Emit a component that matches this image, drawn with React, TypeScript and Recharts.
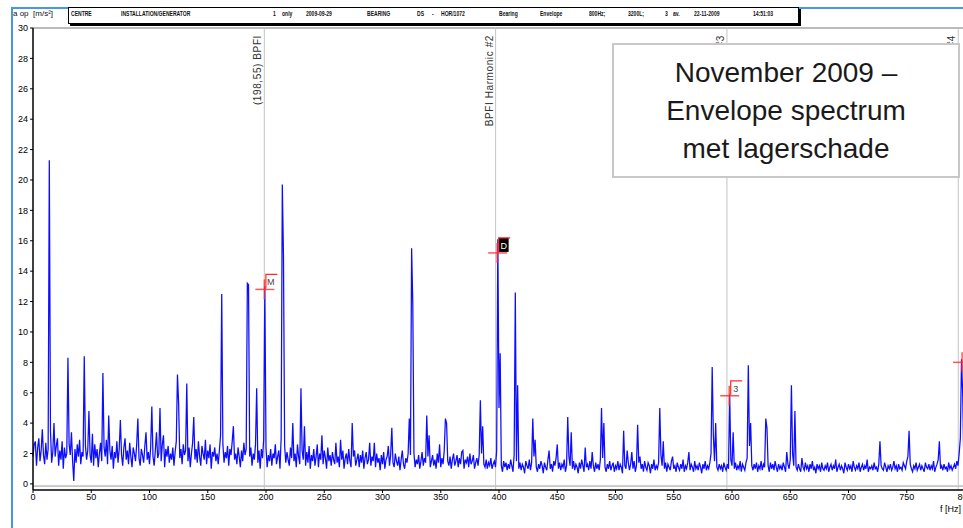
import { LineChart, Line, XAxis, YAxis, ReferenceLine, ReferenceDot } from 'recharts'

// envelope spectrum, 1 Hz bins from 0 to 800 Hz, a op in m/s²
const binHz = 1
const amplitude = [
    1.8, 2.6, 2.8, 1.2, 2.4, 3.0, 1.5, 2.2, 3.6, 1.9, 1.3, 2.7, 1.6, 2.3, 21.3, 3.5, 1.4, 2.1, 4.0, 1.8,
    2.5, 3.0, 1.2, 2.2, 1.6, 2.8, 1.0, 2.4, 1.7, 2.0, 8.3, 2.6, 1.9, 3.4, 1.5, 0.2, 2.3, 1.4, 2.6, 1.8,
    2.9, 1.3, 2.1, 1.8, 8.4, 2.5, 1.6, 2.2, 4.8, 1.9, 1.4, 3.3, 1.2, 2.6, 1.7, 2.3, 1.1, 2.0, 2.7, 1.5,
    7.3, 2.4, 1.8, 2.9, 1.3, 4.5, 2.2, 1.6, 2.5, 1.0, 2.1, 1.7, 2.8, 1.4, 2.3, 4.2, 1.9, 1.2, 2.4, 3.0,
    1.6, 2.2, 1.3, 2.7, 1.8, 1.1, 2.4, 2.0, 1.5, 2.6, 4.3, 1.7, 1.2, 2.3, 1.9, 1.4, 2.5, 3.4, 1.6, 2.1,
    1.3, 2.4, 5.1, 1.8, 1.2, 2.2, 3.4, 1.7, 2.0, 5.0, 1.5, 2.6, 3.2, 1.1, 2.3, 1.8, 2.5, 1.4, 2.0, 1.6,
    2.4, 1.2, 2.1, 2.8, 7.2, 5.3, 1.7, 2.3, 1.3, 2.6, 1.9, 2.2, 6.6, 1.5, 2.4, 1.1, 2.0, 2.7, 4.4, 1.6,
    2.3, 1.4, 2.8, 1.8, 1.2, 2.5, 2.0, 1.6, 2.9, 1.3, 2.2, 1.7, 2.6, 1.0, 2.1, 1.8, 2.4, 1.5, 2.0, 1.3,
    2.2, 3.2, 12.5, 2.6, 1.4, 2.1, 1.7, 2.5, 1.2, 2.3, 1.9, 2.8, 3.8, 1.6, 2.0, 1.3, 2.4, 1.8, 1.1, 2.2,
    1.5, 2.7, 1.9, 2.3, 13.2, 13.1, 1.8, 2.4, 1.2, 2.0, 1.6, 2.6, 6.3, 1.4, 2.2, 1.0, 2.3, 1.7, 2.9, 13.0,
    2.4, 1.1, 1.9, 1.5, 2.3, 1.2, 2.0, 1.7, 2.6, 1.3, 1.8, 2.2, 1.0, 3.0, 19.7, 15.0, 2.5, 1.4, 2.1, 1.6,
    1.2, 2.4, 1.7, 4.0, 1.5, 2.0, 1.1, 2.6, 1.8, 1.3, 6.3, 2.2, 1.6, 3.8, 1.2, 2.1, 1.4, 2.5, 1.0, 1.9,
    1.5, 2.3, 1.2, 1.8, 2.6, 1.1, 2.0, 1.6, 3.2, 1.3, 2.2, 1.7, 1.0, 2.4, 1.5, 1.9, 1.2, 2.1, 1.6, 1.3,
    2.7, 1.4, 1.8, 1.1, 2.9, 1.6, 2.2, 1.0, 1.7, 2.0, 1.3, 2.3, 1.5, 1.1, 4.0, 1.8, 2.2, 1.2, 1.6, 2.0,
    1.1, 1.9, 1.4, 2.2, 1.0, 1.7, 2.1, 1.3, 1.6, 2.7, 1.2, 1.8, 1.5, 2.7, 1.1, 2.0, 1.4, 1.7, 0.9, 1.9,
    1.3, 2.1, 1.0, 1.6, 1.8, 2.5, 1.2, 1.9, 3.7, 1.4, 1.1, 2.0, 1.5, 1.2, 1.8, 0.9, 1.6, 2.2, 1.3, 1.0,
    1.7, 1.4, 2.0, 4.3, 1.9, 15.5, 11.8, 2.0, 1.1, 1.6, 1.3, 1.9, 1.0, 1.5, 2.1, 1.2, 1.7, 1.4, 4.5, 1.8,
    3.2, 1.1, 1.5, 1.9, 1.2, 1.6, 1.0, 2.0, 1.4, 2.6, 1.1, 1.7, 1.3, 2.2, 4.3, 4.0, 1.5, 1.2, 1.8, 1.0,
    1.6, 2.0, 1.2, 1.5, 1.9, 1.1, 1.7, 1.3, 2.1, 2.2, 1.0, 1.6, 1.4, 1.8, 1.1, 2.0, 1.3, 1.5, 1.9, 1.0,
    1.4, 1.7, 1.2, 1.9, 5.5, 2.0, 3.8, 1.3, 1.1, 1.6, 1.0, 1.4, 1.2, 1.7, 1.0, 1.3, 1.5, 1.1, 2.2, 16.1,
    5.0, 8.6, 1.2, 0.8, 1.5, 1.1, 1.4, 0.9, 1.3, 1.0, 1.6, 1.2, 0.8, 1.9, 12.6, 1.5, 6.5, 1.0, 1.4, 0.9,
    1.3, 1.1, 0.7, 1.5, 1.2, 1.0, 1.6, 0.9, 1.4, 4.3, 1.8, 2.9, 1.1, 0.8, 1.3, 1.0, 1.5, 1.2, 0.7, 1.4,
    1.1, 0.9, 1.6, 2.2, 1.0, 1.3, 0.8, 1.5, 1.2, 1.7, 2.6, 1.0, 1.4, 0.9, 1.3, 1.1, 1.6, 0.8, 1.2, 4.4,
    1.8, 1.2, 3.4, 1.0, 1.5, 0.9, 1.3, 1.1, 0.7, 1.4, 1.0, 1.6, 1.2, 0.8, 2.4, 1.1, 1.3, 0.9, 1.5, 1.0,
    2.1, 1.2, 0.8, 1.4, 1.0, 1.3, 0.9, 1.6, 5.0, 1.7, 4.0, 1.1, 0.8, 1.3, 1.0, 1.5, 0.9, 1.2, 1.4, 0.8,
    1.2, 1.0, 1.5, 0.9, 1.3, 1.1, 0.7, 3.5, 1.2, 1.0, 2.2, 1.4, 0.9, 1.3, 2.1, 1.0, 1.5, 0.8, 1.2, 3.9,
    1.4, 1.8, 1.0, 1.3, 0.8, 1.5, 1.1, 0.9, 1.4, 1.2, 0.7, 1.3, 1.0, 1.6, 0.9, 1.2, 1.0, 1.4, 5.0, 1.9,
    1.2, 2.8, 1.0, 1.4, 0.8, 1.3, 1.1, 0.9, 1.5, 1.8, 1.0, 1.2, 0.8, 1.4, 1.1, 0.9, 1.3, 1.0, 1.6, 0.8,
    1.2, 1.0, 1.4, 2.1, 0.9, 1.3, 1.1, 0.8, 1.5, 1.0, 1.2, 0.9, 1.4, 1.1, 0.7, 1.3, 1.0, 1.5, 0.9, 1.2,
    1.0, 1.4, 2.0, 7.7, 3.2, 1.5, 4.0, 1.1, 0.9, 1.3, 1.0, 1.2, 0.8, 1.4, 1.1, 0.9, 1.3, 1.0, 5.9, 1.6,
    1.2, 3.4, 1.0, 1.4, 0.9, 1.2, 1.0, 1.5, 0.8, 1.3, 1.1, 0.9, 1.4, 1.7, 7.8, 2.5, 4.0, 1.2, 0.9, 1.3,
    1.0, 1.4, 0.8, 1.2, 1.0, 1.5, 0.9, 1.3, 1.1, 4.3, 3.7, 1.2, 0.8, 1.4, 1.0, 1.3, 0.9, 1.5, 1.1, 0.8,
    1.3, 1.0, 1.2, 0.9, 1.4, 1.1, 0.8, 2.1, 1.3, 1.0, 1.6, 6.5, 2.0, 1.2, 4.8, 1.1, 0.9, 1.3, 1.0, 0.8,
    1.7, 1.1, 0.9, 1.4, 1.0, 1.2, 0.8, 1.3, 1.0, 1.5, 0.9, 1.1, 0.7, 1.3, 1.0, 1.2, 0.8, 1.4, 1.0, 0.9,
    1.2, 1.0, 1.4, 0.8, 1.1, 1.3, 0.9, 1.2, 1.0, 1.6, 0.8, 1.1, 1.3, 0.9, 1.2, 1.0, 0.7, 1.4, 1.1, 0.9,
    1.3, 1.0, 1.2, 0.8, 1.5, 1.1, 0.9, 1.2, 1.0, 1.4, 0.8, 1.1, 1.3, 0.9, 1.2, 1.0, 1.6, 0.8, 1.1, 1.0,
    1.2, 0.9, 1.4, 1.0, 1.1, 0.8, 1.3, 2.8, 1.2, 1.0, 0.9, 1.4, 1.1, 0.8, 1.2, 1.0, 1.3, 0.9, 1.1, 1.5,
    1.0, 1.2, 0.8, 1.3, 1.0, 1.1, 0.9, 1.4, 1.2, 1.0, 1.5, 1.8, 3.5, 1.3, 1.0, 0.8, 1.2, 1.0, 1.4, 0.9,
    1.1, 1.3, 0.9, 1.2, 1.0, 0.8, 1.4, 1.1, 1.0, 1.3, 0.9, 1.2, 1.0, 1.5, 0.8, 1.1, 1.3, 1.6, 2.8, 1.0,
    1.2, 0.9, 1.3, 1.0, 1.1, 0.8, 1.4, 1.0, 1.2, 0.9, 1.1, 1.3, 1.0, 1.5, 1.2, 2.0, 3.0, 8.2, 6.0, 1.4,
    1.1,
]

const xTicks = [0, 50, 100, 150, 200, 250, 300, 350, 400, 450, 500, 550, 600, 650, 700, 750, 800]
const yTicks = [0, 2, 4, 6, 8, 10, 12, 14, 16, 18, 20, 22, 24, 26, 28, 30]

// BPFI and its harmonics
const bpfi = 198.55
const harmonicF = [1, 2, 3, 4].map((n) => n * bpfi)
const harmonicLabel = ['(198,55) BPFI', 'BPFI Harmonic #2', 'BPFI Harmonic #3', 'BPFI Harmonic #4']

// cursors
const cursorF = [198.6, 398.4, 597.6, 797.5]
const cursorA = [12.8, 15.2, 5.8, 8.0]
const cursorTag = ['M', 'D', '3', '']

const headerFields = ['CENTRE', 'INSTALLATION/GENERATOR', '1', 'only', '2009-09-29', 'BEARING', 'DS', '-', 'HOR/1072',
    'Bearing', 'Envelope', '800Hz;', '3200L;', '3', 'av.', '22-11-2009', '14:51:03']
const headerX = [71, 121, 273, 282, 306, 367, 417, 432, 441, 499, 540, 589, 628, 665, 673, 694, 753]

const spectrum = amplitude.map((a, i) => ({ f: i * binHz, a }))

const NARROW = "'Liberation Sans Narrow', 'Liberation Sans', Arial, sans-serif"
const RED = '#ff2a2a'

const HarmonicLabel = (text: string) => (props: any) => {
    const { x, y } = props.viewBox
    const lx = x - 3
    const ly = y + 7
    return <text x={lx} y={ly} transform={`rotate(-90, ${lx}, ${ly})`} textAnchor='end'
        fontSize={10} letterSpacing={0.6} fill='#333' fontFamily="'Liberation Sans', Arial, sans-serif">{text}</text>
}

const Cursor = (tag: string) => (props: any) => {
    const { cx, cy } = props
    return <g>
        <line x1={cx - 9} x2={cx + 10} y1={cy} y2={cy} stroke={RED} strokeOpacity={0.8} strokeWidth={1.5} />
        <line x1={cx} x2={cx} y1={cy - 10} y2={cy + 10} stroke={RED} strokeOpacity={0.8} strokeWidth={1.5} />
        {tag && <g>
            <rect x={cx + 1.5} y={cy - 15} width={10} height={14} fill={tag === 'D' ? '#000' : '#fff'} />
            <polyline points={`${cx + 1.5},${cy - 1} ${cx + 1.5},${cy - 15} ${cx + 13},${cy - 15}`}
                fill='none' stroke={RED} strokeWidth={1.2} />
            <text x={cx + 6.5} y={cy - 4} textAnchor='middle' fontSize={9} fontFamily={NARROW}
                fill={tag === 'D' ? '#fff' : '#444'}>{tag}</text>
        </g>}
    </g>
}

const abs = (x: number, y: number): React.CSSProperties => ({ position: 'absolute', left: x, top: y })

export default function App() {
    return <div style={{ position: 'fixed', left: 0, top: 0, width: 963, height: 528, overflow: 'hidden', background: '#fff' }}>
        <div style={abs(0, 0)}>
            <LineChart width={975} height={528} data={spectrum} margin={{ top: 28, right: 10, bottom: 8, left: 8 }}>
                <XAxis dataKey='f' type='number' domain={[0, 800]} ticks={xTicks} interval={0}
                    axisLine={{ stroke: '#000', strokeWidth: 1.5 }} tickLine={{ stroke: '#000' }} tickSize={3} tickMargin={1}
                    tick={{ fontSize: 9, fill: '#000', fontFamily: NARROW }} height={30} />
                <YAxis type='number' domain={[-0.4, 30]} ticks={yTicks} interval={0} allowDataOverflow width={25}
                    axisLine={{ stroke: '#000', strokeWidth: 1.5 }} tickLine={{ stroke: '#000' }} tickSize={3} tickMargin={2}
                    tick={{ fontSize: 9, fill: '#000', fontFamily: NARROW }} />
                <ReferenceLine y={30} stroke='#777' />
                <ReferenceLine y={-0.14} stroke='#999' />
                {harmonicF.map((f, i) =>
                    <ReferenceLine key={f} x={f} stroke='#c4c4c4' label={HarmonicLabel(harmonicLabel[i])} />)}
                <Line dataKey='a' stroke='#0c0cff' strokeWidth={1.25} dot={false} isAnimationActive={false} />
                {cursorF.map((f, i) =>
                    <ReferenceDot key={f} x={f} y={cursorA[i]} shape={Cursor(cursorTag[i])} />)}
            </LineChart>
        </div>

        {/* slide frame */}
        <div style={{ ...abs(12, 7), width: 951, height: 2, background: '#4896ea' }} />
        <div style={{ ...abs(11, 7), width: 2, height: 521, background: '#4896ea' }} />

        <div style={{ ...abs(13, 9), fontSize: 8, fontFamily: NARROW, color: '#111', whiteSpace: 'nowrap' }}>a op&nbsp; [m/s²]</div>

        {/* header box */}
        <div style={{ ...abs(68, 7), width: 729, height: 15, border: '1px solid #000', boxShadow: '2px 2px 0 #000', background: '#fff' }} />
        {headerFields.map((t, i) =>
            <div key={i} style={{ ...abs(headerX[i], 10), fontSize: 7, fontWeight: 'bold', fontFamily: NARROW, color: '#111',
                whiteSpace: 'nowrap', transform: 'scaleX(0.72)', transformOrigin: 'left center' }}>{t}</div>)}

        <div style={{ ...abs(940, 504), fontSize: 9, fontFamily: NARROW, color: '#000' }}>f [Hz]</div>

        {/* title box */}
        <div style={{ ...abs(612, 43), width: 348, height: 135, boxSizing: 'border-box', border: '2px solid #c8c8c8', background: '#fff',
            fontFamily: "'Liberation Sans', Arial, sans-serif", fontSize: 28, lineHeight: '38px', color: '#1a1a1a',
            textAlign: 'center', paddingTop: 9 }}>
            November 2009 –<br />Envelope spectrum<br />met lagerschade
        </div>
    </div>
}
